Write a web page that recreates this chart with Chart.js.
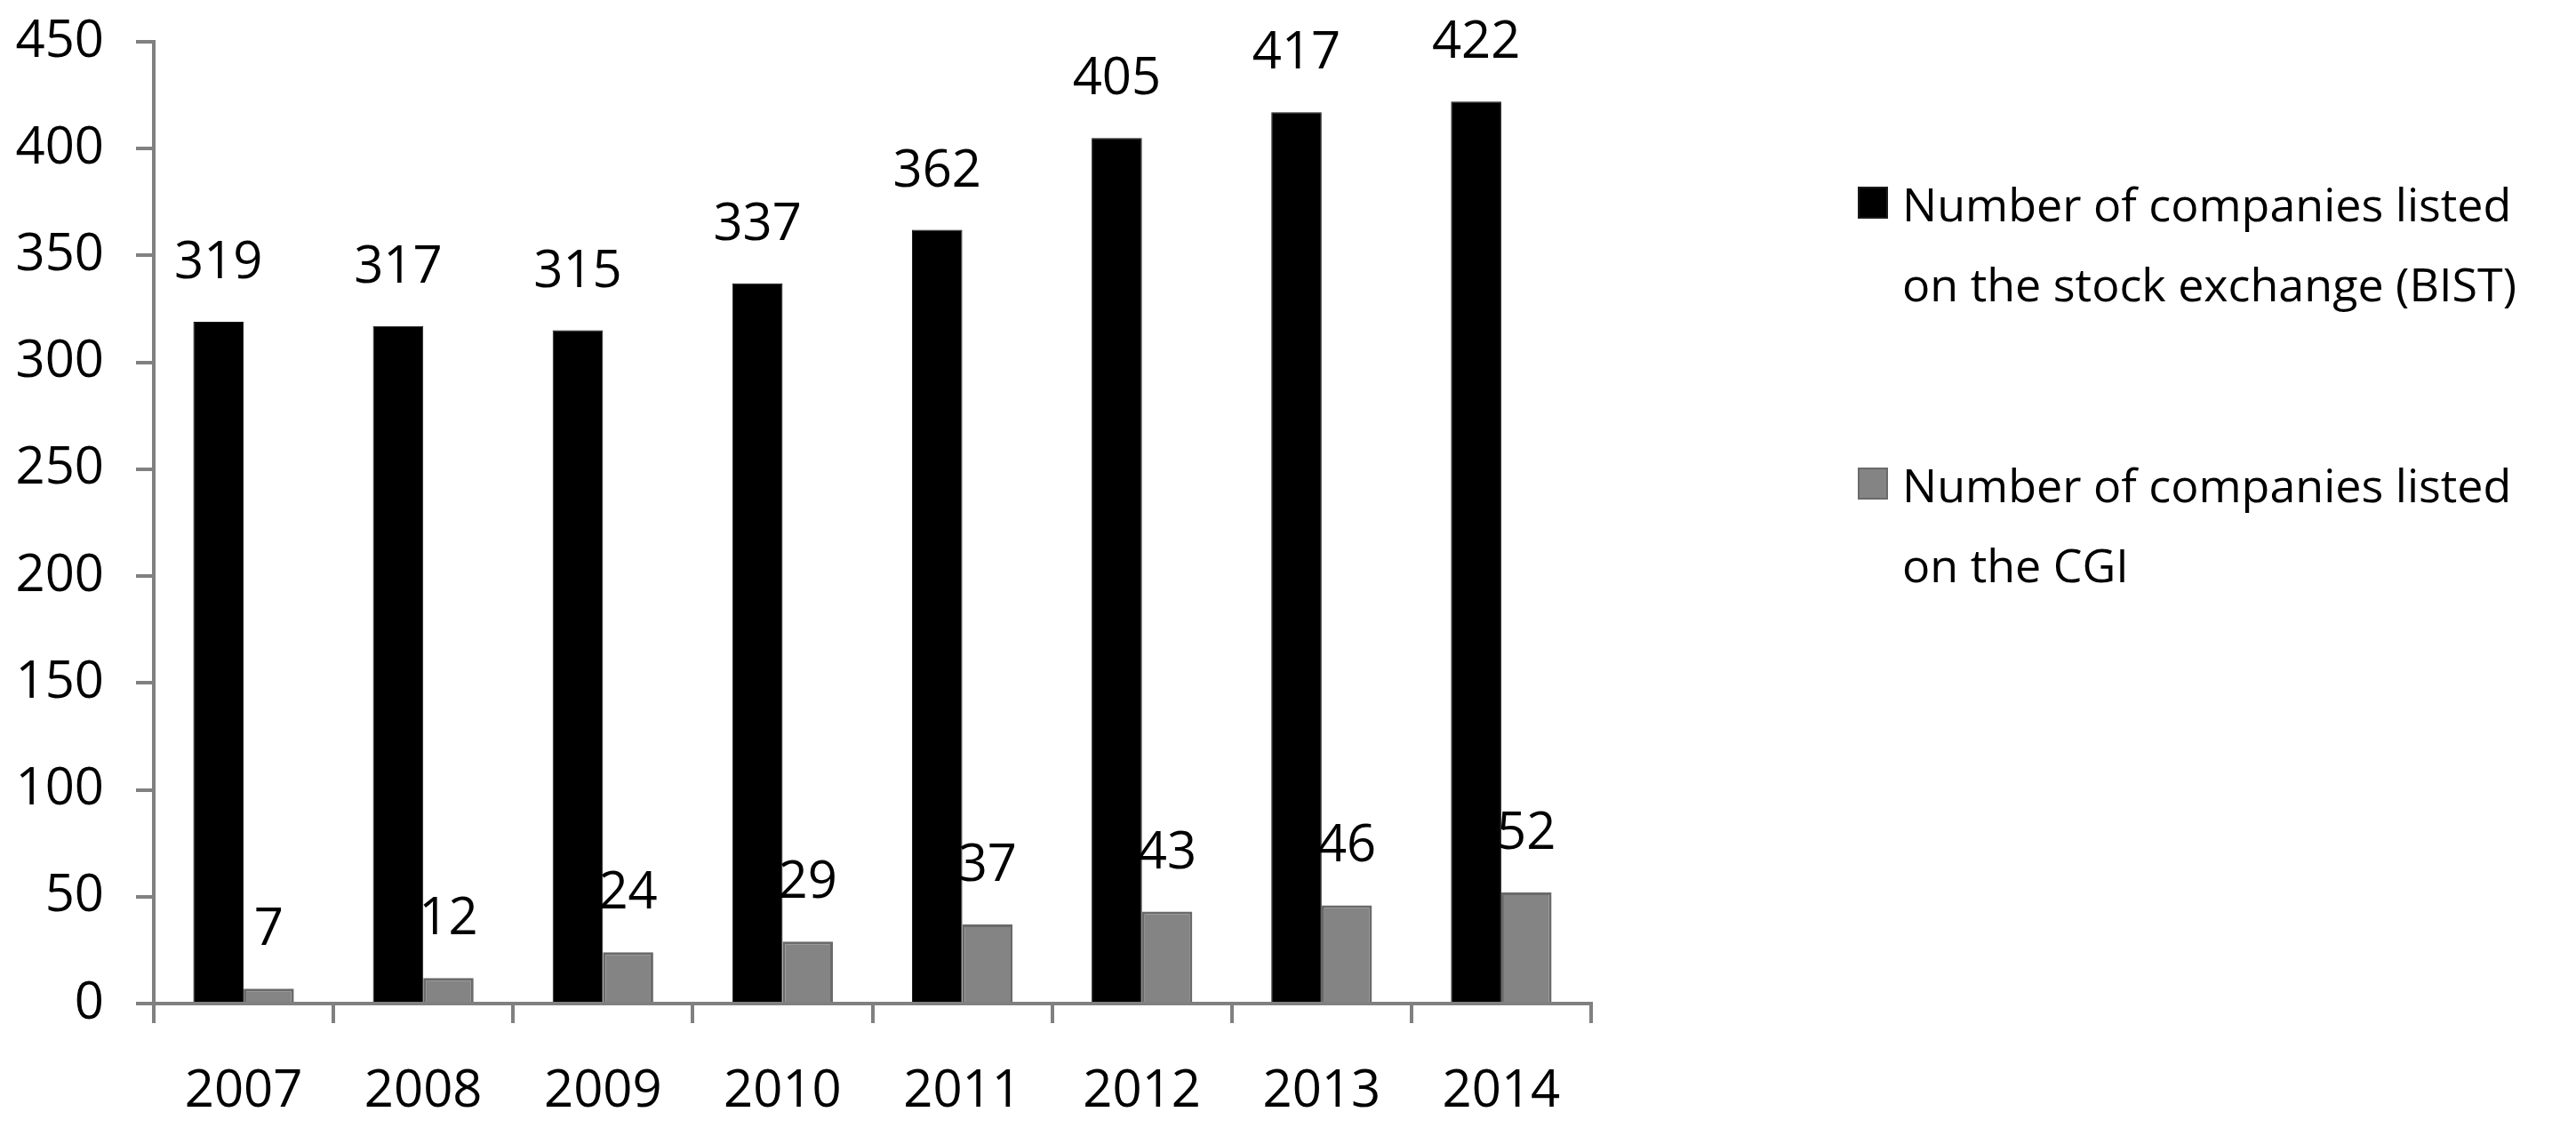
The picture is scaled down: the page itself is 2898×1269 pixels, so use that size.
<!DOCTYPE html>
<html>
<head>
<meta charset="utf-8">
<title>Companies listed on BIST and CGI</title>
<script src="https://cdn.jsdelivr.net/npm/chart.js@4.4.1/dist/chart.umd.min.js"></script>
<style>
  html, body { margin: 0; padding: 0; background: #fff; }
  #wrap { position: relative; width: 2898px; height: 1269px; }
  #legend {
    position: absolute; left: 2090px; top: 184px;
    font-family: 'Open Sans', sans-serif; font-size: 52px; line-height: 90px; color: #000;
  }
  .item { position: relative; padding-left: 50px; margin-bottom: 136px; white-space: nowrap; }
  .box { position: absolute; left: 0; top: 26px; width: 34px; height: 36px; box-sizing: border-box; }
</style>
</head>
<body>
<div id="wrap">
  <canvas id="chart" width="2898" height="1269"></canvas>
  <div id="legend"></div>
</div>
<script>
// Data
const years = ['2007', '2008', '2009', '2010', '2011', '2012', '2013', '2014'];
const bistCompanies = [319, 317, 315, 337, 362, 405, 417, 422];
const cgiCompanies = [7, 12, 24, 29, 37, 43, 46, 52];
const seriesNames = [
  ['Number of companies listed', 'on the stock exchange (BIST)'],
  ['Number of companies listed', 'on the CGI']
];
const yTicks = [0, 50, 100, 150, 200, 250, 300, 350, 400, 450];

const FONT = "'Open Sans', sans-serif";
const axisGrey = '#808080';

// Value labels above each bar
const valueLabels = {
  id: 'valueLabels',
  afterDatasetsDraw(chart) {
    const { ctx } = chart;
    ctx.save();
    ctx.font = '58px ' + FONT;
    ctx.fillStyle = '#000';
    ctx.textAlign = 'center';
    ctx.textBaseline = 'alphabetic';
    chart.data.datasets.forEach((ds, i) => {
      chart.getDatasetMeta(i).data.forEach((bar, j) => {
        ctx.fillText(String(ds.data[j]), bar.x, bar.y - 49);
      });
    });
    ctx.restore();
  }
};

const ctx = document.getElementById('chart').getContext('2d');
const chart = new Chart(ctx, {
  type: 'bar',
  data: {
    labels: years,
    datasets: [{
      label: seriesNames[0].join(' '),
      data: bistCompanies,
      backgroundColor: '#000000',
      borderColor: '#1a1a1a',
      borderWidth: 1,
      categoryPercentage: 0.56,
      barPercentage: 1.0
    }, {
      label: seriesNames[1].join(' '),
      data: cgiCompanies,
      backgroundColor: '#848484',
      borderColor: '#6a6a6a',
      borderWidth: 3,
      categoryPercentage: 0.56,
      barPercentage: 1.0
    }]
  },
  options: {
    responsive: false,
    animation: false,
    layout: { padding: { left: 0, top: 47, right: 1108, bottom: 0 } },
    plugins: {
      legend: { display: false },
      tooltip: { enabled: false }
    },
    scales: {
      x: {
        grid: { drawOnChartArea: false, drawTicks: true, tickLength: 22, color: axisGrey, lineWidth: 4, offset: true },
        border: { display: true, color: axisGrey, width: 4 },
        ticks: { color: '#000', font: { family: FONT, size: 58 }, padding: 43, maxRotation: 0 },
        afterFit: s => { s.height = 140; s.paddingLeft = 0; s.paddingRight = 0; }
      },
      y: {
        min: 0,
        max: 450,
        afterBuildTicks: s => { s.ticks = yTicks.map(v => ({ value: v })); },
        grid: { drawOnChartArea: false, drawTicks: true, tickLength: 20, color: axisGrey, lineWidth: 4 },
        border: { display: true, color: axisGrey, width: 4 },
        ticks: { color: '#000', font: { family: FONT, size: 58 }, padding: 36 },
        afterFit: s => { s.width = 173; s.paddingTop = 0; s.paddingBottom = 0; }
      }
    }
  },
  plugins: [valueLabels]
});

// HTML legend built from the datasets
const legend = document.getElementById('legend');
chart.data.datasets.forEach((ds, i) => {
  const item = document.createElement('div');
  item.className = 'item';
  const box = document.createElement('span');
  box.className = 'box';
  box.style.background = ds.backgroundColor;
  box.style.border = '2px solid ' + ds.borderColor;
  item.appendChild(box);
  seriesNames[i].forEach((line, k) => {
    if (k > 0) item.appendChild(document.createElement('br'));
    item.appendChild(document.createTextNode(line));
  });
  legend.appendChild(item);
});
</script>
</body>
</html>
